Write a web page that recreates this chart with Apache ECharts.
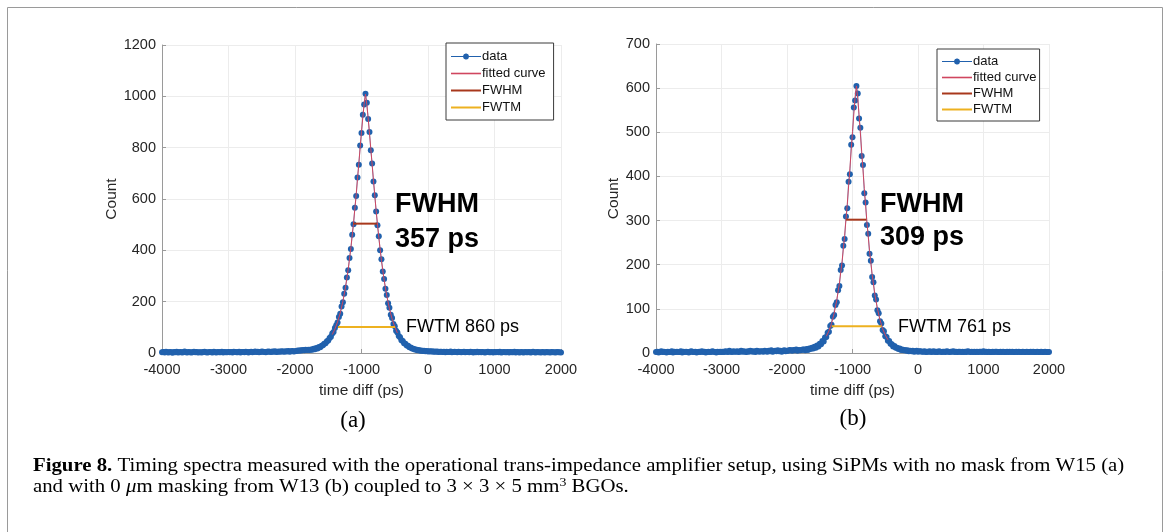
<!DOCTYPE html>
<html><head><meta charset="utf-8">
<script src="https://cdn.jsdelivr.net/npm/echarts@6/dist/echarts.min.js"></script>
<style>html,body{margin:0;padding:0;background:#fff}#c{width:1170px;height:532px}</style>
</head><body><div id="c"></div>
<script>
// ---- data ----
const binStart = -4000;   // first bin centre (ps)
const binWidth = 20;      // bin width (ps)
const countsA = [3,4,2,5,3,2,4,3,1,4,3,5,2,3,4,2,3,6,3,2,4,3,2,3,5,3,4,2,3,3,2,4,5,3,2,3,4,3,2,5,3,2,4,3,3,5,2,4,3,3,4,
3,4,2,5,4,3,3,5,2,4,4,3,5,4,2,4,5,3,4,6,4,5,3,4,6,5,4,3,5,6,5,4,6,5,7,4,5,6,5,7,6,5,7,6,8,5,7,8,6,7,
8,10,9,11,10,12,11,13,12,13,
12,14,13,17,15,19,18,23,22,28,
30,36,38,46,49,58,63,76,82,97,
108,119,140,153,181,198,231,254,294,322,370,405,461,502,566,612,684,733,808,857,928,968,
1010,
975,912,861,790,738,668,615,551,498,455,400,365,318,288,250,226,194,176,149,136,113,104,87,80,66,61,50,47,38,36,29,28,22,21,18,17,14,14,11,12,9,10,8,9,7,8,6,7,6,7,5,6,5,6,4,5,5,
4,5,3,5,4,4,6,3,4,5,4,3,5,4,3,4,5,3,4,4,3,5,4,2,4,3,5,3,4,3,4,3,2,4,5,3,3,4,2,4,3,4,3,5,2,3,4,3,3,4,2,4,3,3,5,2,4,3,2,4,3,2,4,3,3,4,2,3,5,3,2,4,3,3,2,4,3,2,4,3,3,2,4,3,3,2,4,3,3,2];
const countsB = [2,3,1,2,4,2,3,2,1,3,2,2,4,1,3,2,3,2,2,4,1,3,2,3,2,1,3,4,2,2,3,1,2,3,2,4,2,3,1,2,3,2,2,4,3,2,1,3,2,3,2,
3,2,4,3,2,5,3,2,4,3,3,4,2,3,5,3,4,3,2,4,3,5,4,3,4,2,5,4,3,4,4,3,5,4,3,5,4,6,3,4,5,4,6,4,5,3,5,6,4,5,
5,7,6,5,7,6,8,5,7,6,7,8,
8,6,9,7,10,9,12,10,14,12,17,15,21,20,27,26,35,36,46,48,61,64,82,86,109,115,142,152,188,198,243,258,309,328,388,405,472,489,556,572,
605,
588,531,510,446,426,362,341,290,270,225,209,172,160,130,121,97,90,72,67,52,49,38,36,28,27,21,20,15,16,12,12,9,10,7,8,6,7,5,6,4,
5,4,5,3,4,5,3,4,4,3,
3,4,2,3,3,4,2,3,4,2,3,2,4,3,2,3,3,2,4,3,2,3,3,4,2,3,2,3,3,2,3,2,3,2,4,3,2,3,2,3,2,3,2,3,3,2,4,2,3,2,3,2,2,3,2,3,3,2,2,3,2,3,2,2,3,2,3,2,3,2,2,3,2,3,2,2,3,2,2,3,2,2,3,2,3,2,2,3,2,2,3,2,2,3,2,2,2];
const fitXA = [-1440,-1400,-1360,-1320,-1280,-1240,-1200,-1160,-1120,-1080,-1040,-1000,-960,-940,-920,-900,-860,-820,-780,-740,-700,-660,-620,-580,-540,-500,-460];
const fitYA = [72,93,121,156,201,257,326,409,506,617,739,863,973,1008,968,916,796,672,555,451,361,285,223,173,133,102,78];
const fitXB = [-1400,-1360,-1320,-1280,-1240,-1200,-1160,-1120,-1080,-1040,-1000,-960,-940,-920,-900,-860,-820,-780,-740,-700,-660,-620,-580,-540,-500,-460];
const fitYB = [38,50,67,90,120,158,206,266,337,417,502,580,605,577,540,457,373,297,232,178,134,101,75,55,41,30];
const fwhmXA = [-1125, -768], fwhmYA = 504;
const fwtmXA = [-1354, -494], fwtmYA = 101;
const fwhmXB = [-1098, -789], fwhmYB = 302;
const fwtmXB = [-1318, -557], fwtmYB = 60.5;
const legendNames = ['data','fitted curve','FWHM','FWTM'];
const xMin = -4000, xMax = 2000, xStep = 1000;
const yMaxA = 1200, yStepA = 200, yMaxB = 700, yStepB = 100;

// ---- colours ----
const C_DATA = '#2161ad', C_DATALINE = '#3f83c9', C_FIT = '#d0465f', C_FWHM = '#a8381c', C_FWTM = '#edb120';

// ---- build ----
const pairs = (xs, ys) => xs.map((x,i)=>[x, ys[i]]);
const binned = ys => ys.map((y,i)=>[binStart + i*binWidth, y]);
const FONT = 'Liberation Sans, Arial, Helvetica, sans-serif';
const SERIF = 'Liberation Serif, Times New Roman, serif';
const plain = v => String(v);

function xAxisCfg(g){
  return {gridIndex:g, type:'value', min:xMin, max:xMax, interval:xStep,
    name:'time diff (ps)', nameLocation:'middle', nameGap:30,
    nameTextStyle:{fontFamily:FONT, fontSize:15.5, color:'#262626'},
    axisLine:{show:true, onZero:false, lineStyle:{color:'#9a9a9a', width:1}},
    axisTick:{show:true, inside:true, length:4, lineStyle:{color:'#9a9a9a'}},
    axisLabel:{fontFamily:FONT, fontSize:14.5, color:'#262626', margin:9, formatter:plain},
    splitLine:{show:true, lineStyle:{color:'#ececec', width:1}}};
}
function yAxisCfg(g, max, step){
  return {gridIndex:g, type:'value', min:0, max:max, interval:step,
    name:'Count', nameLocation:'middle', nameGap:34,
    nameTextStyle:{fontFamily:FONT, fontSize:15.5, color:'#262626'},
    axisLine:{show:true, onZero:false, lineStyle:{color:'#9a9a9a', width:1}},
    axisTick:{show:true, inside:true, length:4, lineStyle:{color:'#9a9a9a'}},
    axisLabel:{fontFamily:FONT, fontSize:14.5, color:'#262626', margin:6, formatter:plain},
    splitLine:{show:true, lineStyle:{color:'#ececec', width:1}}};
}
function seriesFor(g, counts, fx, fy, hx, hy, tx, ty){
  return [
    {name:'data', type:'line', xAxisIndex:g, yAxisIndex:g, data:binned(counts),
      symbol:'circle', symbolSize:6, showAllSymbol:true,
      itemStyle:{color:C_DATA}, lineStyle:{color:C_DATALINE, width:0.7}, z:2},
    {name:'fitted curve', type:'line', xAxisIndex:g, yAxisIndex:g, data:pairs(fx, fy),
      symbol:'none', itemStyle:{color:C_FIT}, lineStyle:{color:C_FIT, width:1}, z:3},
    {name:'FWHM', type:'line', xAxisIndex:g, yAxisIndex:g, data:pairs(hx, [hy,hy]),
      symbol:'none', itemStyle:{color:C_FWHM}, lineStyle:{color:C_FWHM, width:2}, z:4},
    {name:'FWTM', type:'line', xAxisIndex:g, yAxisIndex:g, data:pairs(tx, [ty,ty]),
      symbol:'none', itemStyle:{color:C_FWTM}, lineStyle:{color:C_FWTM, width:2}, z:4}
  ];
}
const lineIcon = h => 'path://M0,0 L30,0 L30,' + h + ' L0,' + h + ' Z';
const dotLineIcon = 'path://M0,4.6 H12.03 A3,3 0 0 1 17.97,4.6 H30 V5.4 H17.97 A3,3 0 0 1 12.03,5.4 H0 Z';
function legendCfg(left, top, pad, gap){
  return {left:left, top:top, orient:'vertical', selectedMode:false,
    data:[
      {name:legendNames[0], icon:dotLineIcon, itemStyle:{color:C_DATA}},
      {name:legendNames[1], icon:lineIcon(1.6), itemStyle:{color:C_FIT}},
      {name:legendNames[2], icon:lineIcon(2), itemStyle:{color:C_FWHM}},
      {name:legendNames[3], icon:lineIcon(2), itemStyle:{color:C_FWTM}}],
    borderColor:'#3a3a3a', borderWidth:1, backgroundColor:'#fff', borderRadius:0,
    padding:pad, itemGap:gap, itemWidth:30, itemHeight:11,
    textStyle:{fontFamily:FONT, fontSize:13, color:'#111', padding:[0,0,0,-4]}};
}
function txt(x, y, text, size, weight){
  return {type:'text', x:x, y:y, z:100, style:{text:text, fontFamily:FONT, fontSize:size,
    fontWeight:weight||'normal', fill:'#000', align:'left', verticalAlign:'middle'}};
}

const chart = echarts.init(document.getElementById('c'), null, {renderer:'canvas'});
chart.setOption({
  animation:false,
  backgroundColor:'#fff',
  grid:[{left:162, top:45, width:399, height:308},
        {left:656, top:44, width:393, height:309}],
  xAxis:[xAxisCfg(0), xAxisCfg(1)],
  yAxis:[yAxisCfg(0, yMaxA, yStepA), yAxisCfg(1, yMaxB, yStepB)],
  legend:[legendCfg(446, 43, [7,8,6,5], 4), legendCfg(937, 49, [6,3,5,5], 3)],
  series:[].concat(
    seriesFor(0, countsA, fitXA, fitYA, fwhmXA, fwhmYA, fwtmXA, fwtmYA),
    seriesFor(1, countsB, fitXB, fitYB, fwhmXB, fwhmYB, fwtmXB, fwtmYB)),
  graphic:[
    {type:'rect', shape:{x:7.5, y:7.5, width:1155, height:560}, style:{fill:'none', stroke:'#9a9a9a', lineWidth:1}, z:0},
    txt(395, 205, 'FWHM', 27, 'bold'),
    txt(395, 240, '357 ps', 27, 'bold'),
    txt(880, 205, 'FWHM', 27, 'bold'),
    txt(880, 238, '309 ps', 27, 'bold'),
    txt(406, 327, 'FWTM 860 ps', 18),
    txt(898, 327, 'FWTM 761 ps', 18),
    {type:'text', x:353, y:421, z:100, style:{text:'(a)', fontFamily:SERIF, fontSize:23, fill:'#000', align:'center', verticalAlign:'middle'}},
    {type:'text', x:853, y:419, z:100, style:{text:'(b)', fontFamily:SERIF, fontSize:23, fill:'#000', align:'center', verticalAlign:'middle'}},
    {type:'text', x:33, y:466, scaleX:1.155, z:100, style:{
      text:'{b|Figure 8.} Timing spectra measured with the operational trans-impedance amplifier setup, using SiPMs with no mask from W15 (a)',
      fontFamily:SERIF, fontSize:18, fill:'#000', verticalAlign:'middle',
      rich:{b:{fontFamily:SERIF, fontSize:18, fontWeight:'bold', fill:'#000'}}}},
    {type:'text', x:33, y:487, scaleX:1.155, z:100, style:{
      text:'and with 0 {i|\u03bc}m masking from W13 (b) coupled to 3 \u00d7 3 \u00d7 5 mm{s|3} BGOs.',
      fontFamily:SERIF, fontSize:18, fill:'#000', verticalAlign:'middle',
      rich:{i:{fontFamily:SERIF, fontSize:18, fontStyle:'italic', fill:'#000'},
            s:{fontFamily:SERIF, fontSize:12, fill:'#000', verticalAlign:'top', padding:[0,0,8,0]}}}}
  ]
});
</script></body></html>
